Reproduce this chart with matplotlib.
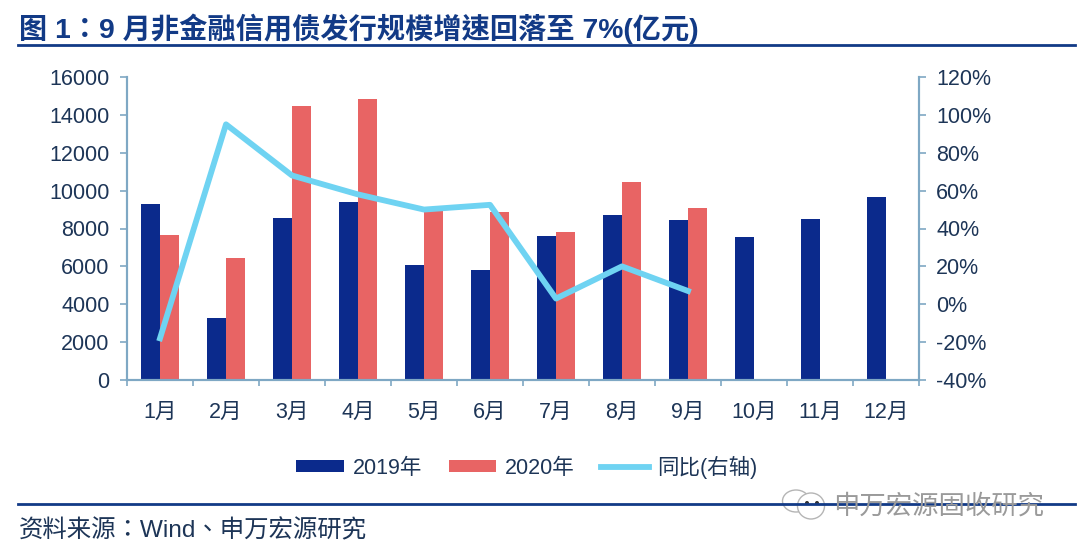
import matplotlib
import matplotlib.pyplot as plt
from matplotlib.patches import Circle, Ellipse
import numpy as np

matplotlib.use("Agg")

plt.rcParams["font.family"] = ["Liberation Sans", "Noto Sans CJK SC", "DejaVu Sans"]
TC_FONT = ["Liberation Sans", "Noto Sans CJK TC", "DejaVu Sans"]  # centred full-width colon

months = ["1月", "2月", "3月", "4月", "5月", "6月", "7月", "8月", "9月", "10月", "11月", "12月"]
vals_2019 = [9300, 3300, 8580, 9400, 6080, 5820, 7600, 8720, 8470, 7530, 8480, 9650]
vals_2020 = [7650, 6430, 14450, 14850, 8950, 8880, 7820, 10450, 9080]
yoy = [-18, 95, 68, 58, 50, 52.5, 3, 20, 7]
left_ticks = list(range(0, 16001, 2000))
right_ticks = list(range(-40, 121, 20))

NAVY = "#0b2a8c"
RED = "#e86464"
CYAN = "#6fd3f2"
AXIS = "#7fa8c4"
RULE = "#123a86"
TEXT = "#1d3557"

W, H = 1080, 553
fig = plt.figure(figsize=(W / 100, H / 100), dpi=100)
ax = fig.add_axes([127 / W, 1 - 380 / H, (919 - 127) / W, (380 - 77) / H])
ax2 = ax.twinx()

x = np.arange(len(months))
bar_w = 0.285
ax.bar(x - bar_w / 2, vals_2019, bar_w, color=NAVY, label="2019年")
ax.bar(np.arange(len(vals_2020)) + bar_w / 2, vals_2020, bar_w, color=RED, label="2020年")
ax2.plot(np.arange(len(yoy)), yoy, color=CYAN, lw=4.2, solid_joinstyle="round", label="同比(右轴)")

ax.set_xlim(-0.5, 11.5)
ax.set_ylim(0, 16000)
ax2.set_ylim(-40, 120)
ax.set_xticks(np.arange(13) - 0.5)
ax.set_xticklabels([""] * 13)
ax.set_xticks(x, minor=True)
ax.set_xticklabels(months, minor=True, fontsize=15.5, color=TEXT)
ax.tick_params(axis="x", which="major", length=4, width=1.2, color=AXIS)
ax.tick_params(axis="x", which="minor", length=0, pad=16)
ax.set_yticks(left_ticks)
ax.tick_params(axis="y", labelsize=15.5, labelcolor=TEXT, color=AXIS, length=5, width=1.2, pad=7.5)
ax2.set_yticks(right_ticks)
ax2.set_yticklabels([f"{v}%" for v in right_ticks])
ax2.tick_params(axis="y", labelsize=15.5, labelcolor=TEXT, color=AXIS, length=5, width=1.2, pad=7.5)

for a in (ax, ax2):
    a.spines["top"].set_visible(False)
    for s in ("left", "right", "bottom"):
        a.spines[s].set_color(AXIS)
        a.spines[s].set_linewidth(1.5)

handles = ax.get_legend_handles_labels()[0] + ax2.get_legend_handles_labels()[0]
labels = ax.get_legend_handles_labels()[1] + ax2.get_legend_handles_labels()[1]
fig.legend(handles, labels, loc="center", bbox_to_anchor=(527 / W, 1 - 467 / H), ncol=3, frameon=False,
           fontsize=15.5, labelcolor=TEXT, handlelength=2.2, columnspacing=1.25, handletextpad=0.4, handleheight=0.5)

fig.text(19 / W, 1 - 29 / H, "图 1：9 月非金融信用债发行规模增速回落至 7%(亿元)", fontsize=20.3, fontweight="bold",
         color=RULE, va="center", ha="left", family=TC_FONT)
fig.text(19 / W, 1 - 531 / H, "资料来源：Wind、申万宏源研究", fontsize=17.6, color=TEXT, va="center", ha="left",
         family=TC_FONT)

fig.add_artist(plt.Line2D([18 / W, 1075 / W], [1 - 45 / H, 1 - 45 / H], color=RULE, lw=2))
fig.add_artist(plt.Line2D([18 / W, 1075 / W], [1 - 504 / H, 1 - 504 / H], color=RULE, lw=2))

# wechat watermark, sits on top of the rule
fig.text(833 / W, 1 - 506 / H, "申万宏源固收研究", fontsize=19, color="#9a9a9a", va="center", ha="left", zorder=5)
overlay = fig.add_axes([0, 0, 1, 1], facecolor="none")
overlay.set_xlim(0, W)
overlay.set_ylim(H, 0)
overlay.axis("off")
overlay.add_patch(Ellipse((796, 501), 27, 22, fc="white", ec="#b5b5b5", lw=1))
overlay.add_patch(Ellipse((811, 506), 27, 26, fc="white", ec="#b5b5b5", lw=1))
overlay.add_patch(Circle((807, 503), 1.3, color="#333333"))
overlay.add_patch(Circle((817, 503), 1.3, color="#333333"))

fig.savefig("out.png", dpi=100)
